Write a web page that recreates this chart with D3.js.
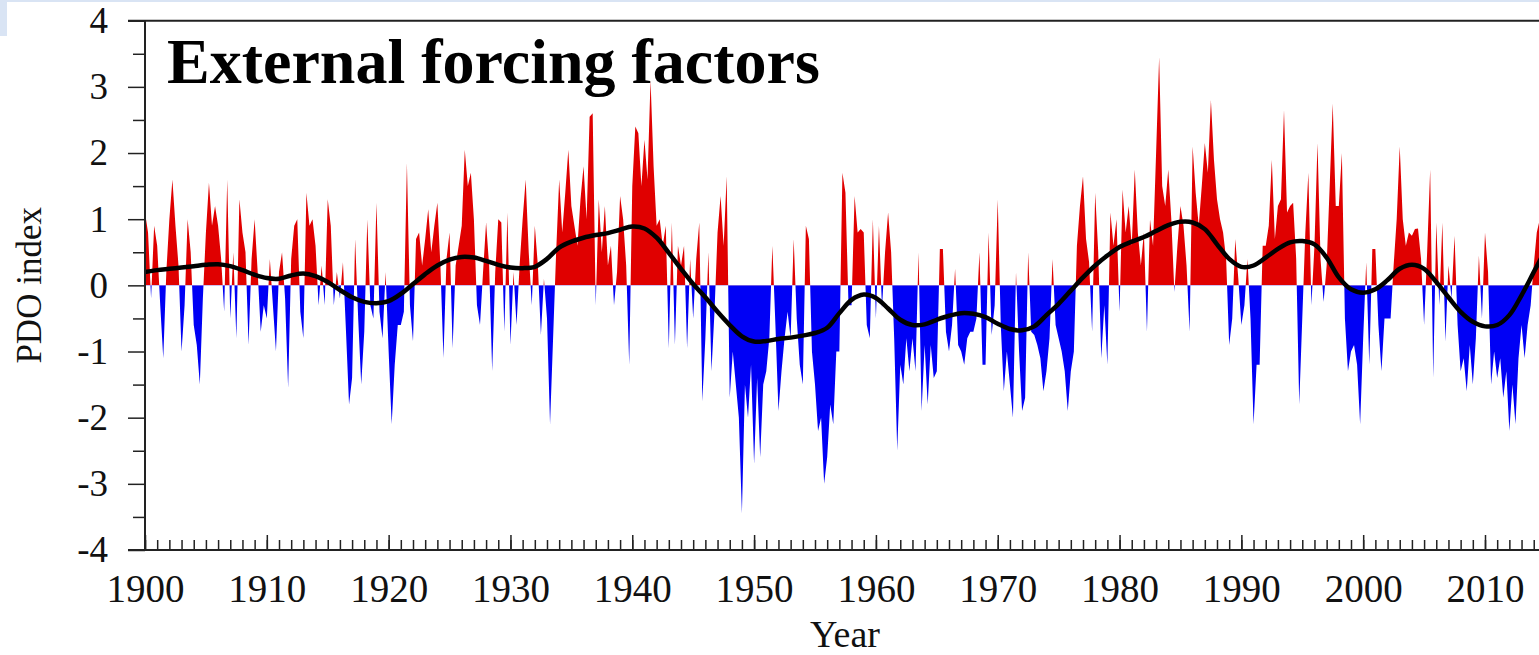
<!DOCTYPE html>
<html>
<head>
<meta charset="utf-8">
<script src="https://cdn.jsdelivr.net/npm/d3@7"></script>
<style>
  html, body { margin: 0; padding: 0; background: #fff; overflow: hidden; }
  svg { display: block; font-family: "Liberation Serif", "Times New Roman", serif; }
</style>
</head>
<body>
<svg id="chart" width="1539" height="655"></svg>
<script>
/* ---------------- DATA ---------------- */
// PDO index, four values per year, one array per decade
const pdo1900s = [
  1.1, 0.8, -0.2, 0.9,   0.6, -0.3, -1.1, 0.2,   1.0, 1.6, 0.9, 0.3,   -1.0, -0.3, 1.0, 0.5,
  -0.6, -0.9, -1.5, -0.2,   0.8, 1.55, 0.9, 1.2,   0.9, 0.4, -0.4, 1.6,   -0.5, 0.5, -0.8, 1.3,
  0.8, 0.5, -0.9, 0.4,   1.0, 0.2, -0.7, -0.3
];
const pdo1910s = [
  -0.5, 0.4, -0.3, -1.0,   0.2, 0.5, -0.2, -1.55,   0.4, 0.9, 1.0, -0.4,   -0.8, 1.4, 0.9, 1.0,
  0.6, -0.3, 0.3, -0.3,   1.3, 0.9, -0.3, 0.2,   -0.2, 0.35, -0.7, -1.8,   -1.4, 0.7, -0.5, -1.5,
  -0.7, 1.0, -0.3, -0.5,   1.25, -0.4, -0.8, 0.2
];
const pdo1920s = [
  -1.0, -2.1, -1.2, -0.6,   -0.6, -0.4, 1.85, -0.3,   -0.85, 0.7, 0.8, 0.3,   0.7, 1.15, 0.5, 0.9,
  1.25, 0.3, -1.1, 0.4,   0.8, -0.95, 0.3, 0.6,   0.9, 2.05, 1.5, 1.7,   1.0, -0.3, -0.6, 0.2,
  0.95, 0.3, -1.3, 0.2,   1.0, 0.95, -0.7, 1.1
];
const pdo1930s = [
  -0.9, 0.2, -0.6, 0.3,   1.0, 1.6, 0.5, -0.3,   0.9, 0.3, -0.75, 0.1,   -0.5, -2.1, -0.8, 0.5,
  1.6, 0.8, 1.4, 2.05,   1.2, 0.9, 0.6, 1.3,   1.8, 1.0, 2.55, 2.6,   -0.3, 1.3, 0.5, 1.2,
  0.3, 0.6, -0.3, 0.2,   1.35, 1.0, 0.3, -1.2
];
const pdo1940s = [
  1.5, 2.4, 2.3, 1.5,   2.2, 1.6, 3.1, 1.8,   0.9, 1.0, 0.6, 0.9,   -0.95, 0.95, -0.9, 0.6,
  0.3, 0.6, -0.95, 0.4,   -0.5, 0.4, 0.95, -1.75,   -0.8, 0.5, -1.3, -0.4,   0.8, 1.35, 0.6, 1.65,
  -1.7, -1.0, -1.5, -2.0,   -3.45, -1.5, -2.0, -1.2
];
const pdo1950s = [
  -2.7, -1.4, -2.6, -1.5,   -1.3, -0.8, 0.6, -0.6,   -1.9, -1.3, -0.8, -0.4,   -0.8, 0.7, -0.5, -1.2,
  -1.5, 0.9, 0.7, -1.0,   -1.5, -2.2, -2.0, -3.0,   -2.6, -1.8, -2.1, -1.0,   -1.0, 1.7, 1.4, -0.3,
  -0.3, 1.35, 0.8, 0.85,   0.8, -0.6, -0.8, 1.0
];
const pdo1960s = [
  -0.5, 0.9, -0.35, 0.5,   1.1, 0.5, -0.8, -2.5,   -1.2, -1.5, -0.8, -1.3,   -0.8, -1.3, 0.5, -1.9,
  -0.9, -1.8, -0.9, -1.4,   -1.3, 0.55, 0.55, -0.7,   -1.0, -0.6, 0.25, -0.9,   -1.0, -1.2, -0.8, -0.7,
  -0.7, -0.5, 0.5, -1.2,   -1.2, 0.8, -0.75, -0.3
];
const pdo1970s = [
  1.3, -0.6, -1.6, -1.0,   -1.5, -2.0, 0.2, -1.0,   -1.9, -1.7, 0.5, -0.7,   -0.75, -0.9, -1.1, -1.6,
  -1.3, -0.8, 0.4, -0.6,   -0.8, -1.0, -1.3, -1.9,   -1.3, -1.0, 0.6, 1.2,   1.65, 0.7, 0.35, -0.7,
  1.4, 0.5, -1.1, -0.3,   -1.2, 1.1, 0.6, 1.0
];
const pdo1980s = [
  -0.4, 1.45, 0.8, 1.2,   0.6, 1.75, 0.8, 0.3,   0.8, -0.7, 1.0, 0.6,   2.0, 3.45, 1.5, 1.2,
  1.75, 1.0, -0.1, 0.6,   1.2, 0.9, 0.3, -0.7,   2.1, 1.4, 0.9, 1.5,   2.15, 1.7, 2.8, 1.9,
  1.3, 1.0, 0.8, 0.4,   -0.9, -0.5, 0.7, 0.1
];
const pdo1990s = [
  -0.6, -0.3, 0.4, -0.5,   -2.1, -1.2, -1.2, 0.6,   0.6, 0.9, 1.9, 0.7,   1.2, 1.3, 2.65, 1.1,
  1.2, 1.25, 0.4, -1.8,   -0.5, 0.8, 1.7, -0.3,   0.6, 2.15, 0.4, -0.25,   0.3, 1.5, 2.75, 1.2,
  1.2, 2.0, -0.5, -1.3,   -1.0, -0.9, -1.2, -2.1
];
const pdo2000s = [
  -0.8, 0.35, -1.2, 0.55,   0.55, -0.6, -1.3, -0.5,   -0.5, -0.5, 0.3, 1.0,   2.1, 1.0, 0.6, 0.8,
  0.75, 0.85, 0.86, 0.4,   -0.6, 0.5, 1.75, -1.4,   0.95, -0.3, 0.95, -0.85,   0.3, -0.2, 0.75, -0.6,
  -1.3, -1.1, -1.6, -0.9,   -1.5, -0.8, 0.45, -0.5
];
const pdo2010s = [
  0.8, 0.2, -1.5, -1.0,   -1.4, -1.1, -1.7, -1.3,   -2.2, -1.5, -2.1, -1.1,   -0.6, -1.1, -0.6, -0.3,
  0.3, 0.8, 1.0, 1.3
];

// smoothed PDO (black curve), one value per year from 1900
const smoothPDO = [
  0.20, 0.23, 0.25, 0.27, 0.29, 0.31, 0.32, 0.29, 0.23, 0.16,
  0.11, 0.10, 0.15, 0.18, 0.14, 0.05, -0.07, -0.18, -0.25, -0.27,
  -0.24, -0.13, 0.02, 0.17, 0.30, 0.39, 0.43, 0.42, 0.37, 0.31,
  0.27, 0.26, 0.28, 0.40, 0.57, 0.66, 0.72, 0.76, 0.79, 0.84,
  0.89, 0.86, 0.72, 0.49, 0.25, 0.02, -0.18, -0.40, -0.60, -0.77,
  -0.85, -0.84, -0.81, -0.79, -0.76, -0.72, -0.64, -0.42, -0.22, -0.14,
  -0.19, -0.35, -0.52, -0.60, -0.59, -0.52, -0.46, -0.42, -0.43, -0.48,
  -0.58, -0.66, -0.68, -0.62, -0.45, -0.28, -0.08, 0.12, 0.30, 0.45,
  0.58, 0.66, 0.73, 0.82, 0.91, 0.96, 0.95, 0.85, 0.62, 0.40,
  0.28, 0.30, 0.42, 0.55, 0.65, 0.67, 0.62, 0.42, 0.12, -0.06,
  -0.11, -0.06, 0.08, 0.25, 0.31, 0.25, 0.05, -0.18, -0.40, -0.55,
  -0.62, -0.60, -0.45, -0.15, 0.20, 0.55
];

const decadeStarts = [1900, 1910, 1920, 1930, 1940, 1950, 1960, 1970, 1980, 1990, 2000, 2010];
const decadeData = [pdo1900s, pdo1910s, pdo1920s, pdo1930s, pdo1940s, pdo1950s,
                    pdo1960s, pdo1970s, pdo1980s, pdo1990s, pdo2000s, pdo2010s];
const yTicks = [-4, -3, -2, -1, 0, 1, 2, 3, 4];
const xTickLabels = d3.range(1900, 2011, 10);

const series = decadeData.flatMap((arr, i) =>
  arr.map((v, j) => ({ t: decadeStarts[i] + j / 4, v })));
const smooth = smoothPDO.map((v, i) => ({ t: 1900 + i, v }));

/* ---------------- SVG SETUP ---------------- */
const svg = d3.select("#chart");
const W = 1539, H = 655;

const x = d3.scaleLinear().domain([1900, 2010]).range([145, 1485]);
const y = d3.scaleLinear().domain([-4, 4]).range([550, 20.7]);

// slide background bits
svg.append("rect").attr("x", 0).attr("y", 0).attr("width", W).attr("height", 2).attr("fill", "#d9e4f4");
svg.append("rect").attr("x", 0).attr("y", 0).attr("width", 7).attr("height", 36).attr("fill", "#d9e4f4");

const defs = svg.append("defs");
defs.append("clipPath").attr("id", "above")
  .append("rect")
  .attr("x", x(1900)).attr("y", y(4))
  .attr("width", W).attr("height", y(0) - y(4));
defs.append("clipPath").attr("id", "below")
  .append("rect")
  .attr("x", x(1900)).attr("y", y(0))
  .attr("width", W).attr("height", y(-4) - y(0));
defs.append("clipPath").attr("id", "plot")
  .append("rect")
  .attr("x", x(1900)).attr("y", y(4))
  .attr("width", W).attr("height", y(-4) - y(4));

/* ---------------- FILLED INDEX ---------------- */
const area = d3.area()
  .x(d => x(d.t))
  .y0(y(0))
  .y1(d => y(d.v));

svg.append("path")
  .datum(series)
  .attr("clip-path", "url(#above)")
  .attr("fill", "#e00000")
  .attr("d", area);

svg.append("path")
  .datum(series)
  .attr("clip-path", "url(#below)")
  .attr("fill", "#0000f5")
  .attr("d", area);

/* ---------------- SMOOTH CURVE ---------------- */
const line = d3.line()
  .x(d => x(d.t))
  .y(d => y(d.v))
  .curve(d3.curveCatmullRom.alpha(0.5));

svg.append("path")
  .datum(smooth)
  .attr("clip-path", "url(#plot)")
  .attr("fill", "none")
  .attr("stroke", "#000")
  .attr("stroke-width", 4.5)
  .attr("d", line);

/* ---------------- AXES ---------------- */
const axisColor = "#222";

// y minor ticks
svg.append("g")
  .attr("transform", `translate(${x(1900)},0)`)
  .call(d3.axisLeft(y).tickValues(d3.range(-3.5, 4, 1)).tickSize(12).tickFormat(""))
  .call(g => g.select(".domain").remove())
  .call(g => g.selectAll("line").attr("stroke", axisColor).attr("stroke-width", 1.5));

// y major ticks + labels
svg.append("g")
  .attr("transform", `translate(${x(1900)},0)`)
  .call(d3.axisLeft(y).tickValues(yTicks).tickSize(17).tickPadding(20).tickFormat(d => String(d)))
  .call(g => g.select(".domain").remove())
  .call(g => g.selectAll("line").attr("stroke", axisColor).attr("stroke-width", 1.5))
  .call(g => g.selectAll("text")
    .attr("font-family", "Liberation Serif, Times New Roman, serif")
    .attr("font-size", 37).attr("fill", "#111"));

// x minor ticks (every year)
svg.append("g")
  .attr("transform", `translate(0,${y(-4)})`)
  .call(d3.axisBottom(x).tickValues(d3.range(1900, 2015)).tickSize(-10).tickFormat(""))
  .call(g => g.select(".domain").remove())
  .call(g => g.selectAll("line").attr("stroke", axisColor).attr("stroke-width", 1.5));

// x major ticks + labels
svg.append("g")
  .attr("transform", `translate(0,${y(-4)})`)
  .call(d3.axisBottom(x).tickValues(xTickLabels).tickSize(-15).tickPadding(24).tickFormat(d3.format("d")))
  .call(g => g.select(".domain").remove())
  .call(g => g.selectAll("line").attr("stroke", axisColor).attr("stroke-width", 1.5))
  .call(g => g.selectAll("text")
    .attr("font-family", "Liberation Serif, Times New Roman, serif")
    .attr("font-size", 39).attr("fill", "#111"));

// frame lines: left axis, bottom axis, top border
svg.append("line")
  .attr("x1", x(1900)).attr("x2", x(1900)).attr("y1", y(4)).attr("y2", y(-4))
  .attr("stroke", axisColor).attr("stroke-width", 2);
svg.append("line")
  .attr("x1", x(1900) - 17).attr("x2", W).attr("y1", y(-4)).attr("y2", y(-4))
  .attr("stroke", axisColor).attr("stroke-width", 2);
svg.append("line")
  .attr("x1", x(1900) - 17).attr("x2", W).attr("y1", y(4)).attr("y2", y(4))
  .attr("stroke", axisColor).attr("stroke-width", 2);

/* ---------------- TITLES ---------------- */
svg.append("text")
  .attr("x", 167).attr("y", 83)
  .attr("font-size", 64).attr("font-weight", "bold").attr("fill", "#000")
  .text("External forcing factors");

svg.append("text")
  .attr("transform", `translate(41,${y(0)}) rotate(-90)`)
  .attr("text-anchor", "middle")
  .attr("font-size", 35).attr("fill", "#111")
  .text("PDO index");

svg.append("text")
  .attr("x", 845).attr("y", 647)
  .attr("text-anchor", "middle")
  .attr("font-size", 38).attr("fill", "#111")
  .text("Year");
</script>
</body>
</html>
